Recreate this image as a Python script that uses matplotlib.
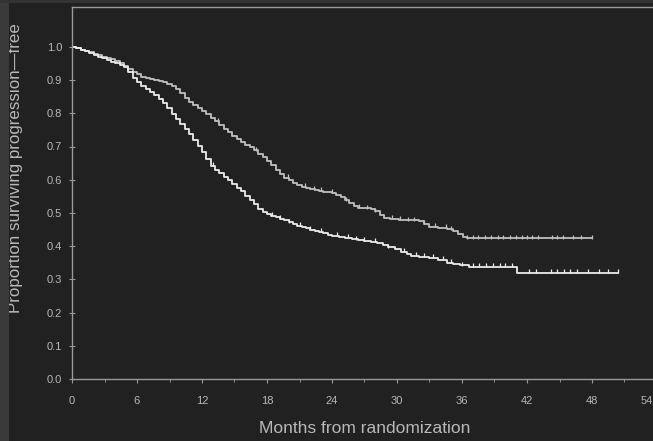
import matplotlib
matplotlib.use("Agg")
import matplotlib.pyplot as plt
from matplotlib.patches import Rectangle
from matplotlib.transforms import ScaledTranslation

# ---- data ----
# Upper curve (ends ~0.42)
t_a = [0, 0.4, 0.8, 1.2, 1.6, 2.0, 2.4, 2.8, 3.2, 3.6, 4.0, 4.4, 4.8, 5.2, 5.6,
       6.0, 6.4, 6.8, 7.2, 7.6, 8.0, 8.4, 8.8, 9.2, 9.6, 10.0, 10.4, 10.8, 11.2,
       11.6, 12.0, 12.4, 12.8, 13.2, 13.6, 14.0, 14.4, 14.8, 15.2, 15.6, 16.0,
       16.4, 16.8, 17.2, 17.6, 18.0, 18.4, 18.8, 19.2, 19.6, 20.0, 20.4, 20.8,
       21.2, 21.6, 22.0, 22.4, 22.8, 23.2, 23.6, 24.0, 24.4, 24.8, 25.2, 25.6,
       26.0, 26.4, 27.0, 27.6, 28.0, 28.4, 28.8, 29.4, 30.2, 31.0, 32.0, 32.5,
       33.0, 33.8, 34.6, 35.2, 35.6, 36.1, 36.5, 48.0]
s_a = [1.0, 0.996, 0.992, 0.988, 0.984, 0.979, 0.975, 0.970, 0.966, 0.962, 0.957,
       0.951, 0.943, 0.934, 0.925, 0.917, 0.910, 0.906, 0.903, 0.900, 0.897, 0.893,
       0.888, 0.882, 0.872, 0.860, 0.847, 0.835, 0.824, 0.815, 0.806, 0.797, 0.787,
       0.776, 0.765, 0.754, 0.744, 0.733, 0.723, 0.714, 0.705, 0.697, 0.688, 0.678,
       0.668, 0.657, 0.644, 0.630, 0.616, 0.606, 0.598, 0.591, 0.584, 0.579, 0.574,
       0.571, 0.568, 0.566, 0.564, 0.562, 0.560, 0.555, 0.547, 0.538, 0.529, 0.521,
       0.515, 0.514, 0.512, 0.505, 0.494, 0.485, 0.483, 0.480, 0.478, 0.476, 0.468,
       0.459, 0.455, 0.451, 0.447, 0.438, 0.428, 0.424, 0.424]
cens_a = [13.5, 17.0, 19.9, 21.5, 22.3, 23.0, 24.0, 25.3, 26.5, 27.2, 28.0, 29.5,
          30.3, 31.0, 31.6, 32.5, 33.5, 34.5, 35.0, 36.5, 37.0, 37.5, 38.1, 38.7,
          39.3, 39.8, 40.4, 41.0, 41.5, 42.0, 42.5, 43.0, 44.3, 44.8, 45.3, 46.2,
          47.0, 48.0]

# Lower curve (ends ~0.32)
t_b = [0, 0.4, 0.8, 1.2, 1.6, 2.0, 2.4, 2.8, 3.2, 3.6, 4.0, 4.4, 4.8, 5.2, 5.6,
       6.0, 6.4, 6.8, 7.2, 7.6, 8.0, 8.4, 8.8, 9.2, 9.6, 10.0, 10.4, 10.8, 11.2,
       11.6, 12.0, 12.4, 12.8, 13.2, 13.6, 14.0, 14.4, 14.8, 15.2, 15.6, 16.0,
       16.4, 16.8, 17.2, 17.6, 18.0, 18.4, 18.8, 19.2, 19.6, 20.0, 20.4, 20.8,
       21.2, 21.6, 22.0, 22.4, 22.8, 23.2, 23.6, 24.0, 24.6, 25.2, 25.8, 26.4,
       27.0, 27.6, 28.2, 28.7, 29.2, 29.8, 30.4, 30.9, 31.3, 32.0, 33.0, 33.8,
       34.6, 35.2, 35.8, 36.6, 41.1, 50.4]
s_b = [1.0, 0.996, 0.992, 0.987, 0.982, 0.976, 0.970, 0.965, 0.960, 0.955, 0.950,
       0.945, 0.938, 0.925, 0.905, 0.893, 0.883, 0.874, 0.865, 0.855, 0.844, 0.831,
       0.816, 0.799, 0.782, 0.768, 0.753, 0.738, 0.720, 0.701, 0.682, 0.661, 0.641,
       0.630, 0.620, 0.609, 0.598, 0.587, 0.576, 0.565, 0.552, 0.539, 0.526, 0.513,
       0.503, 0.496, 0.491, 0.487, 0.483, 0.478, 0.472, 0.467, 0.462, 0.458, 0.454,
       0.450, 0.447, 0.443, 0.439, 0.435, 0.431, 0.428, 0.425, 0.421, 0.418, 0.416,
       0.413, 0.408, 0.402, 0.396, 0.390, 0.383, 0.377, 0.370, 0.367, 0.364, 0.358,
       0.350, 0.346, 0.342, 0.338, 0.319, 0.319]
cens_b = [13.0, 18.5, 19.2, 20.0, 21.0, 22.0, 23.0, 24.5, 25.5, 26.2, 27.0, 28.0,
          29.2, 30.6, 31.8, 32.5, 33.3, 34.2, 35.0, 36.0, 37.0, 37.6, 38.2, 38.9,
          39.5, 40.0, 40.6, 42.2, 42.8, 44.2, 44.8, 45.4, 46.0, 46.6, 47.6, 48.6,
          49.5, 50.4]

x_ticks = [0, 6, 12, 18, 24, 30, 36, 42, 48, 54]
x_ticklabels = ["0", "6", "12", "18", "24", "30", "36", "42", "48", "54"]
y_ticks = [0.0, 0.1, 0.2, 0.3, 0.4, 0.5, 0.6, 0.7, 0.8, 0.9, 1.0]
y_ticklabels = ["0.0", "0.1", "0.2", "0.3", "0.4", "0.5", "0.6", "0.7", "0.8", "0.9", "1.0"]


def step_value(ts, ss, x):
    v = ss[0]
    for t, s in zip(ts, ss):
        if t <= x:
            v = s
        else:
            break
    return v


BG = "#212121"
TXT = "#b8b8b8"
plt.rcParams["font.family"] = ["Liberation Sans", "DejaVu Sans"]

fig = plt.figure(figsize=(6.53, 4.41), dpi=100, facecolor=BG)
# lighter frame strips
fig.patches.append(Rectangle((0, 0), 9 / 653, 1, transform=fig.transFigure,
                             facecolor="#3a3a3a", edgecolor="none", zorder=0))
fig.patches.append(Rectangle((0, 1 - 3 / 441), 1, 3 / 441, transform=fig.transFigure,
                             facecolor="#333333", edgecolor="none", zorder=0))

ax = fig.add_axes([72 / 653, 1 - 379 / 441, 585 / 653, 372 / 441])
ax.set_facecolor(BG)

col_a = "#c0c0c0"
col_b = "#ebebeb"
ax.step(t_a, s_a, where="post", color=col_a, lw=1.3)
ax.step(t_b, s_b, where="post", color=col_b, lw=1.3)
ax.plot(cens_a, [step_value(t_a, s_a, c) + 0.005 for c in cens_a], ls="none",
        marker="|", ms=3.5, mew=0.9, color=col_a)
ax.plot(cens_b, [step_value(t_b, s_b, c) + 0.005 for c in cens_b], ls="none",
        marker="|", ms=3.5, mew=0.9, color=col_b)

ax.set_xlim(0, 54)
ax.set_ylim(0, 1.12)
ax.set_xticks(x_ticks)
ax.set_xticklabels(x_ticklabels)
ax.set_xticks([3, 9, 15, 21, 27, 33, 39, 45, 51], minor=True)
ax.set_yticks(y_ticks)
ax.set_yticklabels(y_ticklabels)

for side in ["left", "bottom", "top"]:
    ax.spines[side].set_color("#9a9a9a")
    ax.spines[side].set_linestyle((0, (1.5, 1)))
    ax.spines[side].set_linewidth(1.0)
ax.spines["right"].set_visible(False)

ax.tick_params(axis="both", which="both", colors="#9a9a9a", labelcolor=TXT,
               labelsize=8)
ax.tick_params(axis="x", which="major", direction="out", length=3, pad=9)
ax.tick_params(axis="x", which="minor", direction="out", length=2)
ax.tick_params(axis="y", which="major", direction="inout", length=4, pad=5)

# last tick label sits at the figure edge; nudge it so it stays inside
last = ax.get_xticklabels()[-1]
last.set_horizontalalignment("right")
last.set_transform(last.get_transform() + ScaledTranslation(-4 / 100, 0, fig.dpi_scale_trans))

ax.set_xlabel("Months from randomization", color=TXT, fontsize=12.5, labelpad=11)
ax.set_ylabel("Proportion surviving progression\u2014free", color=TXT, fontsize=12.2)
ax.yaxis.set_label_coords(-0.083, 0.567)

fig.savefig("out.png", dpi=100, facecolor=BG)
